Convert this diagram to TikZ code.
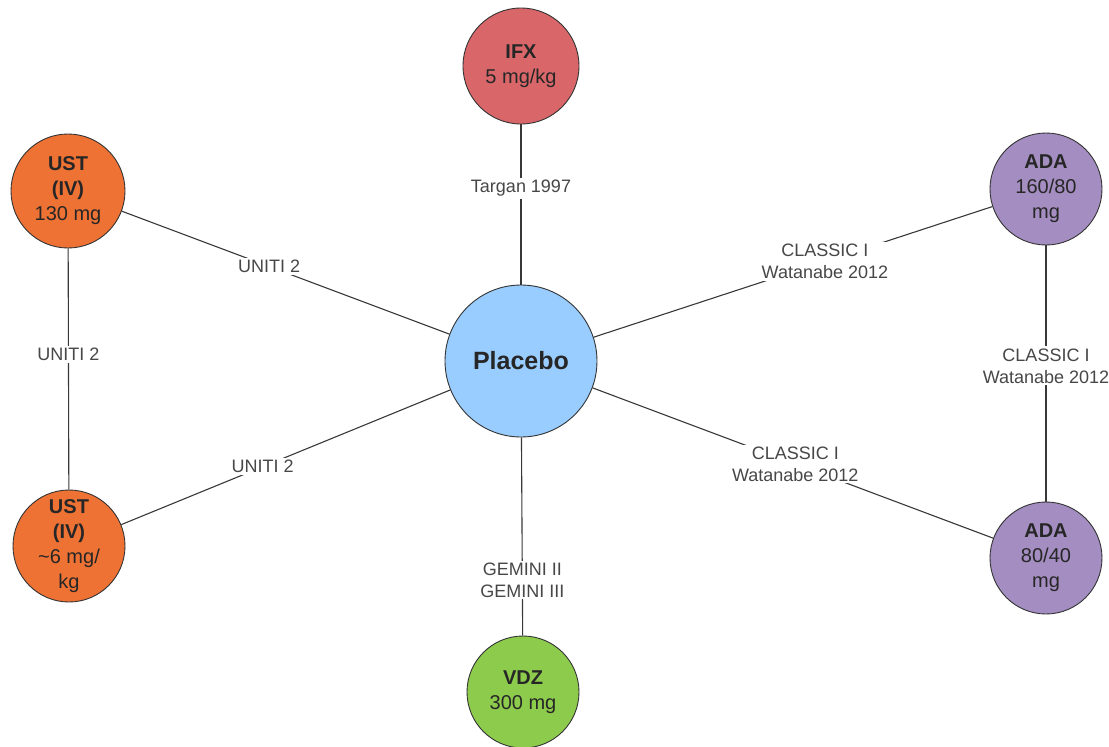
\documentclass[tikz,border=0pt]{standalone}
\usepackage{fontspec}
\setmainfont{Liberation Sans}
\begin{document}
\begin{tikzpicture}[x=1pt,y=-1pt,
  drug/.style={circle,draw=black!80,line width=0.9pt,inner sep=0pt,align=center,
    font=\fontsize{20}{25}\selectfont,text=black!85},
  link/.style={draw=black!78,line width=1.1pt},
  lbl/.style={fill=white,inner sep=2pt,align=center,text=black!72,
    font=\fontsize{18}{22}\selectfont}]
\definecolor{ifxred}{HTML}{D9676A}
\definecolor{ustorange}{HTML}{EF7235}
\definecolor{plblue}{HTML}{99CCFF}
\definecolor{vdzgreen}{HTML}{8DCB4C}
\definecolor{adapurple}{HTML}{A48DC0}
\useasboundingbox (0,0) rectangle (1109,747);

% treatment nodes
\node[drug,fill=ifxred,minimum size=116pt] (ifx) at (521,66) {\textbf{IFX}\\5 mg/kg};
\node[drug,fill=ustorange,minimum size=114pt] (usta) at (68,191) {\textbf{UST}\\\textbf{(IV)}\\130 mg};
\node[drug,fill=ustorange,minimum size=112pt] (ustb) at (69,546) {\textbf{UST}\\\textbf{(IV)}\\\textasciitilde6 mg/\\kg};
\node[drug,fill=plblue,minimum size=152pt,font=\fontsize{25}{29}\selectfont\bfseries] (pl) at (521,361) {Placebo};
\node[drug,fill=vdzgreen,minimum size=112pt] (vdz) at (523,692) {\textbf{VDZ}\\300 mg};
\node[drug,fill=adapurple,minimum size=112pt] (adaa) at (1046,189) {\textbf{ADA}\\160/80\\mg};
\node[drug,fill=adapurple,minimum size=112pt] (adab) at (1046,558) {\textbf{ADA}\\80/40\\mg};

% comparisons with their trials
\draw[link] (ifx) -- node[lbl,pos=0.40] {Targan 1997} (pl);
\draw[link] (usta) -- node[lbl,pos=0.45] {UNITI 2} (pl);
\draw[link] (ustb) -- node[lbl,pos=0.43] {UNITI 2} (pl);
\draw[link] (usta) -- node[lbl,pos=0.44] {UNITI 2} (ustb);
\draw[link] (pl) -- node[lbl,pos=0.58] {CLASSIC I\\Watanabe 2012} (adaa);
\draw[link] (pl) -- node[lbl,pos=0.506] {CLASSIC I\\Watanabe 2012} (adab);
\draw[link] (adaa) -- node[lbl,pos=0.47] {CLASSIC I\\Watanabe 2012} (adab);
\draw[link] (pl) -- node[lbl,pos=0.72] {GEMINI II\\GEMINI III} (vdz);
\end{tikzpicture}
\end{document}
